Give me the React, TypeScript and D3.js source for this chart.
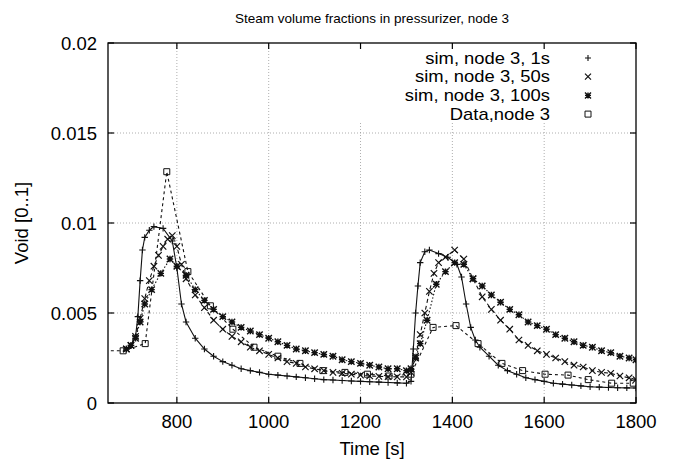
import React from "react";
import * as d3 from "d3";

const TITLE = "Steam volume fractions in pressurizer, node 3";
const X_LABEL = "Time [s]";
const Y_LABEL = "Void [0..1]";
const X_TICKS = [800, 1000, 1200, 1400, 1600, 1800];
const Y_TICKS = [0, 0.005, 0.01, 0.015, 0.02];
const Y_TICK_LABELS = ["0", "0.005", "0.01", "0.015", "0.02"];
const LEGEND = ["sim, node 3, 1s", "sim, node 3, 50s", "sim, node 3, 100s", "Data,node 3"];

const T_1S = [690, 700, 710, 715, 720, 725, 730, 740, 750, 770, 790, 800, 810, 820, 840, 860, 880, 900, 920, 940, 960, 980, 1000, 1020, 1040, 1060, 1080, 1100, 1120, 1140, 1160, 1180, 1200, 1220, 1240, 1260, 1280, 1300, 1310, 1315, 1320, 1325, 1330, 1340, 1350, 1370, 1390, 1410, 1420, 1430, 1440, 1450, 1460, 1480, 1500, 1520, 1540, 1560, 1580, 1600, 1620, 1640, 1660, 1680, 1700, 1720, 1740, 1760, 1780, 1800];
const V_1S = [0.003, 0.0032, 0.0037, 0.0048, 0.0068, 0.0085, 0.0092, 0.0096, 0.0098, 0.0097, 0.009, 0.0075, 0.0055, 0.0045, 0.0036, 0.003, 0.0026, 0.0023, 0.0021, 0.0019, 0.0018, 0.0017, 0.0016, 0.00155, 0.0015, 0.00145, 0.0014, 0.00135, 0.0013, 0.00128, 0.00125, 0.00122, 0.0012, 0.00118, 0.00116, 0.00114, 0.00112, 0.0011, 0.0012, 0.003, 0.005, 0.0065, 0.0078, 0.0084, 0.0085, 0.0083, 0.0081, 0.0077, 0.007, 0.0055, 0.0042, 0.0035, 0.0031, 0.0026, 0.0021, 0.0018, 0.0016, 0.0014, 0.0013, 0.0012, 0.0011, 0.00105, 0.001, 0.00095, 0.0009, 0.00088, 0.00086, 0.00085, 0.00084, 0.00083];

const T_50S = [690, 700, 710, 720, 730, 740, 750, 760, 770, 780, 790, 800, 810, 820, 840, 860, 880, 900, 920, 940, 960, 980, 1000, 1020, 1040, 1060, 1080, 1100, 1120, 1140, 1160, 1180, 1200, 1220, 1240, 1260, 1280, 1300, 1310, 1320, 1330, 1340, 1350, 1360, 1370, 1385, 1405, 1425, 1445, 1465, 1485, 1505, 1525, 1545, 1565, 1585, 1605, 1625, 1645, 1665, 1685, 1705, 1725, 1745, 1765, 1785, 1800];
const V_50S = [0.003, 0.0032, 0.0037, 0.0047, 0.0058, 0.0068, 0.0076, 0.0082, 0.0087, 0.0091, 0.0093, 0.0087, 0.0077, 0.0069, 0.006, 0.0053, 0.0046, 0.0041, 0.0037, 0.0034, 0.0031, 0.0029, 0.0027, 0.0025, 0.0023, 0.0022, 0.002, 0.0019, 0.0018, 0.0017, 0.00165, 0.0016, 0.00155, 0.0015, 0.00148, 0.00146, 0.00145, 0.00145, 0.0017, 0.0026, 0.0038, 0.005, 0.0062, 0.0072, 0.0078, 0.0081, 0.0085, 0.008, 0.0069, 0.0059, 0.0052, 0.0046, 0.0041, 0.0035, 0.0032, 0.0029, 0.0027, 0.0025, 0.0023, 0.0021, 0.002, 0.0018, 0.0017, 0.00165, 0.0015, 0.0014, 0.0013];

const T_100S = [690, 700, 710, 720, 730, 745, 765, 785, 800, 820, 840, 860, 880, 900, 920, 940, 960, 980, 1000, 1020, 1040, 1060, 1080, 1100, 1120, 1140, 1160, 1180, 1200, 1220, 1240, 1260, 1280, 1300, 1310, 1320, 1330, 1345, 1365, 1385, 1405, 1425, 1445, 1465, 1485, 1505, 1525, 1545, 1565, 1585, 1605, 1625, 1645, 1665, 1685, 1705, 1725, 1745, 1765, 1785, 1800];
const V_100S = [0.003, 0.0032, 0.0036, 0.0045, 0.0055, 0.0063, 0.0072, 0.008, 0.0076, 0.0071, 0.0063, 0.0057, 0.0052, 0.0048, 0.0045, 0.0042, 0.004, 0.0038, 0.0036, 0.0034, 0.0032, 0.003, 0.0029, 0.0028, 0.0027, 0.0026, 0.0024, 0.0023, 0.0022, 0.0021, 0.002, 0.0019, 0.0019, 0.0018, 0.0019, 0.0025, 0.0033, 0.0046, 0.0066, 0.0073, 0.0078, 0.0077, 0.0069, 0.0065, 0.006, 0.0056, 0.0052, 0.0049, 0.0045, 0.0043, 0.0041, 0.0038, 0.0036, 0.0034, 0.0032, 0.0031, 0.0029, 0.0028, 0.0026, 0.0025, 0.0024];

const T_DATA = [630, 683, 731, 778, 824, 873, 922, 968, 1020, 1068, 1118, 1166, 1215, 1262, 1310, 1358, 1408, 1456, 1508, 1553, 1602, 1652, 1696, 1747, 1794];
const V_DATA = [0.0029, 0.0029, 0.0033, 0.01285, 0.0073, 0.0054, 0.0041, 0.0031, 0.0026, 0.0022, 0.0018, 0.0017, 0.0016, 0.0015, 0.0016, 0.0042, 0.0043, 0.0033, 0.0022, 0.0018, 0.0016, 0.00155, 0.0013, 0.0011, 0.0011];

const W = 676, H = 467;
const L = 108, R = 636, T = 43, B = 403;

type Sym = "plus" | "cross" | "star" | "square";
function symPath(s: Sym, r: number) {
  const p = `M${-r},0H${r}M0,${-r}V${r}`;
  const c = `M${-r},${-r}L${r},${r}M${-r},${r}L${r},${-r}`;
  if (s === "plus") return p;
  if (s === "cross") return c;
  if (s === "star") return p + c;
  return `M${-r},${-r}H${r}V${r}H${-r}Z`;
}

export default function App() {
  const x = d3.scaleLinear().domain([650, 1800]).range([L, R]);
  const y = d3.scaleLinear().domain([0, 0.02]).range([B, T]);
  const line = d3.line<[number, number]>().x(d => x(d[0])).y(d => y(d[1]));
  const series = [
    { t: T_1S, v: V_1S, sym: "plus" as Sym, dash: "none", r: 3.2, sw: 1.1 },
    { t: T_50S, v: V_50S, sym: "cross" as Sym, dash: "4,3", r: 3.2, sw: 1.2 },
    { t: T_100S, v: V_100S, sym: "star" as Sym, dash: "1.5,2", r: 3.2, sw: 1.4 },
    { t: T_DATA, v: V_DATA, sym: "square" as Sym, dash: "3,3", r: 3, sw: 1 },
  ];
  const font = "'Liberation Sans', Arial, Helvetica, sans-serif";
  const grid = "#999";
  const fs = 18.5;
  return (
    <svg width={W} height={H} style={{ position: "absolute", left: 0, top: 0, background: "#fff" }} fontFamily={font}>
      <defs>
        <clipPath id="plotclip"><rect x={L} y={T} width={R - L} height={B - T} /></clipPath>
      </defs>
      <rect x={0} y={0} width={W} height={H} fill="#fff" />
      {X_TICKS.filter(t => t < 1800).map(t => (
        <line key={"gx" + t} x1={x(t)} x2={x(t)} y1={B} y2={T} stroke={grid} strokeWidth={0.8} strokeDasharray="1,2" />
      ))}
      {Y_TICKS.filter(v => v > 0 && v < 0.02).map(v => (
        <line key={"gy" + v} x1={L} x2={R} y1={y(v)} y2={y(v)} stroke={grid} strokeWidth={0.8} strokeDasharray="1,2" />
      ))}
      <rect x={356} y={T + 1} width={R - 357} height={79} fill="#fff" />
      <g clipPath="url(#plotclip)">
        {series.map((s, i) => {
          const pts = s.t.map((t, j) => [t, s.v[j]] as [number, number]);
          return (
            <g key={i}>
              <path d={line(pts) || ""} fill="none" stroke="#111" strokeWidth={1.1} strokeDasharray={s.dash} />
              {pts.map((p, j) => (
                <path key={j} d={symPath(s.sym, s.r)} transform={`translate(${x(p[0])},${y(p[1])})`} fill="none" stroke="#111" strokeWidth={s.sw} />
              ))}
            </g>
          );
        })}
      </g>
      <rect x={L} y={T} width={R - L} height={B - T} fill="none" stroke="#000" strokeWidth={1.3} />
      {X_TICKS.map(t => (
        <g key={"tx" + t}>
          <line x1={x(t)} x2={x(t)} y1={B} y2={B - 6} stroke="#000" strokeWidth={1.2} />
          <line x1={x(t)} x2={x(t)} y1={T} y2={T + 6} stroke="#000" strokeWidth={1.2} />
          <text x={x(t)} y={B + 25} fontSize={fs} textAnchor="middle">{t}</text>
        </g>
      ))}
      {Y_TICKS.map((v, i) => (
        <g key={"ty" + v}>
          <line x1={L} x2={L + 6} y1={y(v)} y2={y(v)} stroke="#000" strokeWidth={1.2} />
          <line x1={R} x2={R - 6} y1={y(v)} y2={y(v)} stroke="#000" strokeWidth={1.2} />
          <text x={L - 11} y={y(v) + 6.5} fontSize={fs} textAnchor="end">{Y_TICK_LABELS[i]}</text>
        </g>
      ))}
      <text x={(L + R) / 2} y={23} fontSize={13.5} textAnchor="middle">{TITLE}</text>
      <text x={(L + R) / 2} y={455} fontSize={fs} textAnchor="middle">{X_LABEL}</text>
      <text transform={`translate(28,${(T + B) / 2}) rotate(-90)`} fontSize={fs} textAnchor="middle">{Y_LABEL}</text>
      {LEGEND.map((lab, i) => (
        <g key={"lg" + i}>
          <text transform={`translate(550,${58 + i * 18.7 + 5.5}) scale(1.15,1)`} x={0} y={0} fontSize={16} textAnchor="end">{lab}</text>
          <path d={symPath(series[i].sym, 3)} transform={`translate(588,${58 + i * 18.7})`} fill="none" stroke="#111" strokeWidth={series[i].sw} />
        </g>
      ))}
    </svg>
  );
}
